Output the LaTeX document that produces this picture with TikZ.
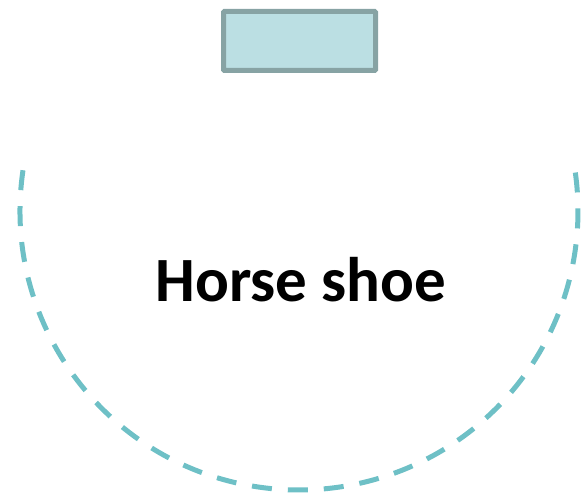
\documentclass[tikz,border=0pt]{standalone}
\usepackage{fontspec}
\setmainfont{Carlito}
\definecolor{boxfill}{HTML}{BBDFE3}
\definecolor{boxline}{HTML}{87A3A4}
\definecolor{shoe}{HTML}{6EC0C6}
\begin{document}
\begin{tikzpicture}[x=1pt,y=-1pt,
  topbox/.style={draw=boxline,fill=boxfill,line width=5pt,rounded corners=1pt,minimum width=152pt,minimum height=59pt,inner sep=0pt},
  shoeline/.style={draw=shoe,line width=5pt,dash pattern=on 20pt off 16pt},
  title/.style={font=\bfseries\fontsize{63}{76}\selectfont,inner sep=0pt}]
\useasboundingbox (0,0) rectangle (587,503);
\node[topbox] (box) at (299.5,41) {};
\coordinate (c) at (299,211);
\draw[shoeline] (c) ++(188.4:279) arc[start angle=188.4,end angle=-8.4,radius=279];
\node[title] (lbl) at (301,280) {Horse shoe};
\end{tikzpicture}
\end{document}
